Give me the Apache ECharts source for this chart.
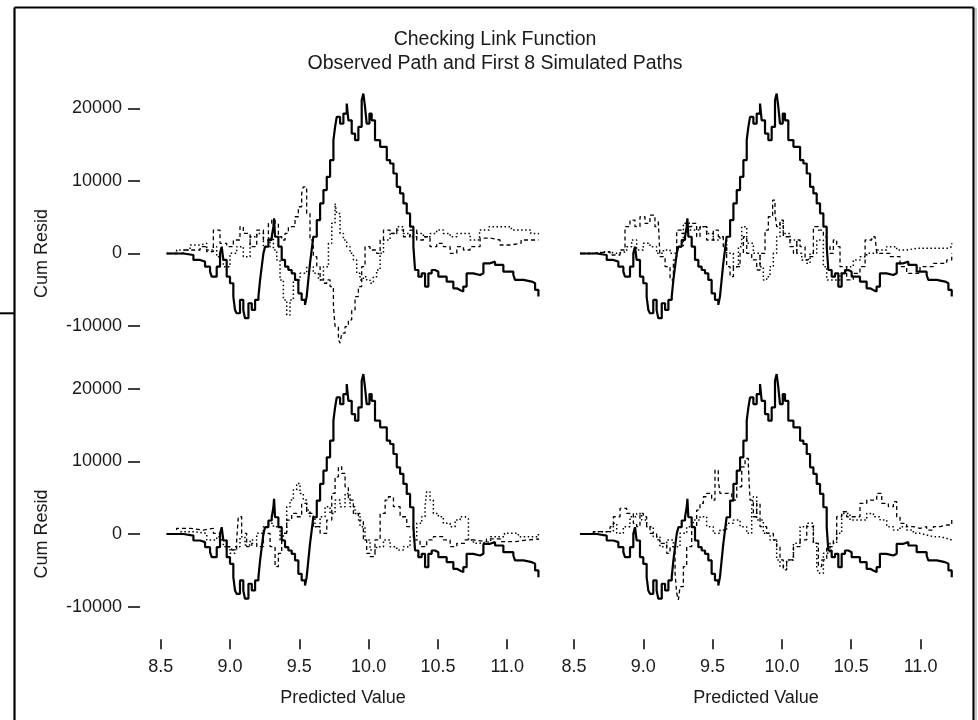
<!DOCTYPE html>
<html>
<head>
<meta charset="utf-8">
<script src="https://cdn.jsdelivr.net/npm/echarts@6/dist/echarts.min.js"></script>
<style>html,body{margin:0;padding:0;background:#fff}#c{width:978px;height:720px}</style>
</head>
<body>
<div id="c"></div>
<script>
// ---------- data ----------
const titleLines = ['Checking Link Function', 'Observed Path and First 8 Simulated Paths'];
const xTicks = [8.5, 9.0, 9.5, 10.0, 10.5, 11.0];
const yTicks = [-10000, 0, 10000, 20000];
const xAxisTitle = 'Predicted Value';
const yAxisTitle = 'Cum Resid';

// observed cumulative residual path (same in every panel)
const observedPath = [
[8.543,0],[8.664,-210],[8.736,-890],[8.784,-1120],[8.820,-1810],[8.856,-2500],[8.868,-3190],[8.904,-1810],
[8.928,20],[8.940,940],[8.952,-890],[8.976,-3190],[9.000,-4100],[9.024,-5940],[9.036,-7770],[9.048,-8230],
[9.072,-6390],[9.096,-7770],[9.108,-8910],[9.133,-6850],[9.157,-7770],[9.181,-6390],[9.205,-5940],[9.217,-3640],
[9.229,-1810],[9.241,20],[9.253,940],[9.277,1860],[9.301,2310],[9.313,3690],[9.318,4840],[9.325,2310],
[9.349,940],[9.373,-890],[9.397,-1810],[9.421,-2270],[9.445,-2730],[9.469,-3640],[9.493,-5480],[9.517,-6390],
[9.541,-7080],[9.553,-5940],[9.565,-3640],[9.577,-1350],[9.589,480],[9.601,2310],[9.626,4610],[9.650,6900],
[9.674,8730],[9.698,10560],[9.722,12860],[9.746,15610],[9.758,17440],[9.770,18810],[9.794,17900],[9.818,19270],
[9.842,20650],[9.854,18350],[9.878,16520],[9.902,15610],[9.926,17440],[9.950,21100],[9.962,22020],[9.974,20190],
[9.986,17900],[10.006,19270],[10.022,18350],[10.046,15610],[10.083,14690],[10.107,14690],[10.131,12860],[10.155,12400],
[10.179,11020],[10.203,9190],[10.227,8270],[10.251,6900],[10.275,5520],[10.299,3690],[10.323,940],[10.335,-2270],
[10.359,-3190],[10.383,-2730],[10.407,-4560],[10.431,-2730],[10.455,-2270],[10.479,-2500],[10.503,-3190],[10.539,-3190],
[10.563,-3870],[10.611,-4790],[10.636,-5020],[10.659,-5250],[10.683,-4560],[10.707,-2730],[10.755,-2960],[10.804,-2730],
[10.828,-1350],[10.876,-1120],[10.912,-1580],[10.972,-2500],[11.044,-2960],[11.056,-3640],[11.117,-3870],[11.177,-4100],
[11.201,-5020],[11.225,-5940]
];

// simulated paths, two per panel (top-left, top-right, bottom-left, bottom-right)
const sim1 = [
[8.543,0],[8.664,480],[8.784,940],[8.832,250],[8.880,3230],[8.928,1400],[8.976,940],[9.024,1860],[9.072,3690],
[9.096,2770],[9.145,940],[9.193,3230],[9.241,1860],[9.277,4150],[9.301,4610],[9.325,4150],[9.349,2310],[9.373,1860],
[9.397,2770],[9.421,3690],[9.445,3690],[9.469,5060],[9.493,6440],[9.517,8270],[9.529,9190],[9.553,5520],[9.577,1860],
[9.601,-440],[9.626,-1810],[9.650,-3640],[9.674,-4100],[9.698,-3640],[9.722,-4560],[9.746,-7310],[9.758,-10060],
[9.782,-11890],[9.794,-12350],[9.806,-10980],[9.830,-10060],[9.854,-9140],[9.878,-7770],[9.902,-5940],[9.926,-4560],
[9.950,-1810],[9.974,940],[10.010,480],[10.058,20],[10.083,1860],[10.107,3230],[10.155,2770],[10.203,3230],[10.251,2310],
[10.299,3230],[10.347,1860],[10.395,2310],[10.443,940],[10.491,1400],[10.539,940],[10.588,20],[10.636,940],[10.684,480],
[10.732,940],[10.804,2130],[10.876,1860],[10.948,1170],[11.020,1400],[11.100,1860],[11.225,1860]
];
const sim2 = [
[8.543,0],[8.615,480],[8.712,1170],[8.784,1400],[8.832,480],[8.880,940],[8.904,-440],[8.952,-1810],[9.000,20],
[9.048,940],[9.096,-440],[9.145,2310],[9.193,2770],[9.241,940],[9.289,2310],[9.313,480],[9.337,-890],[9.361,-3640],
[9.385,-6390],[9.409,-8460],[9.433,-6390],[9.457,-3640],[9.505,-2730],[9.553,-1810],[9.601,-2730],[9.638,-3640],
[9.674,-1810],[9.710,1400],[9.734,4150],[9.758,6900],[9.770,5520],[9.794,2770],[9.818,1860],[9.842,940],[9.866,20],
[9.890,-890],[9.914,-2730],[9.938,-3640],[9.962,-3190],[9.986,-3640],[10.010,-4100],[10.034,-3190],[10.058,-2270],
[10.083,20],[10.107,1860],[10.155,2770],[10.203,3690],[10.251,2770],[10.299,2310],[10.347,2770],[10.395,2310],
[10.443,2770],[10.491,3230],[10.539,2770],[10.588,2310],[10.636,2770],[10.684,2770],[10.732,1860],[10.800,3230],
[10.870,3690],[10.950,3690],[11.030,3230],[11.100,3230],[11.170,2770],[11.225,2310]
];
const sim3 = [
[8.543,0],[8.639,250],[8.760,-210],[8.832,480],[8.868,3690],[8.904,4610],[8.940,3690],[8.976,5060],[9.012,4150],
[9.048,5290],[9.084,3690],[9.108,4610],[9.120,-440],[9.157,-1810],[9.193,-3640],[9.217,-890],[9.241,3230],[9.277,2770],
[9.313,3690],[9.349,4150],[9.385,2310],[9.409,3690],[9.457,1860],[9.505,3230],[9.541,2310],[9.577,940],[9.601,-1810],
[9.626,-3190],[9.650,-1810],[9.698,20],[9.722,2310],[9.746,20],[9.782,-890],[9.818,-2270],[9.842,20],[9.878,3230],
[9.902,5060],[9.933,7350],[9.950,5520],[9.962,3690],[9.986,4610],[10.010,2310],[10.058,940],[10.083,20],[10.107,1860],
[10.131,940],[10.167,-890],[10.191,-440],[10.227,3690],[10.263,3230],[10.299,2310],[10.323,940],[10.347,20],[10.371,1860],
[10.395,940],[10.419,-1810],[10.467,-3640],[10.515,-2730],[10.563,-1810],[10.600,1860],[10.648,2310],[10.672,2310],
[10.684,20],[10.780,-440],[10.852,-1810],[10.900,-2730],[10.996,-1810],[11.093,-1350],[11.189,-890],[11.225,20]
];
const sim4 = [
[8.543,0],[8.639,250],[8.736,20],[8.808,250],[8.880,940],[8.916,1860],[8.952,480],[9.000,1400],[9.048,940],
[9.096,20],[9.145,480],[9.193,20],[9.241,940],[9.289,4150],[9.337,3230],[9.409,3690],[9.457,2770],[9.505,1860],
[9.553,2310],[9.601,20],[9.650,-1810],[9.686,940],[9.710,3690],[9.746,1400],[9.794,20],[9.842,-1810],[9.866,-3640],
[9.890,-3190],[9.914,-1810],[9.938,20],[9.962,2310],[9.986,4150],[10.010,2770],[10.058,1860],[10.107,20],[10.143,-890],
[10.179,-1350],[10.203,20],[10.251,1860],[10.299,-1810],[10.323,-3640],[10.371,-3640],[10.419,-2730],[10.467,-1810],
[10.515,-890],[10.563,-440],[10.612,20],[10.684,480],[10.756,940],[10.828,480],[10.900,710],[10.972,710],[11.044,710],
[11.117,710],[11.189,940],[11.225,1400]
];
const sim5 = [
[8.543,0],[8.615,780],[8.712,550],[8.808,780],[8.880,90],[8.928,-820],[8.976,-1740],[9.012,-2200],[9.048,-820],
[9.060,2380],[9.084,90],[9.120,-1740],[9.157,-1280],[9.193,-1740],[9.241,90],[9.289,-1740],[9.325,-4490],[9.349,-2660],
[9.373,90],[9.409,1920],[9.445,2840],[9.481,2380],[9.517,4220],[9.553,2840],[9.601,1010],[9.650,90],[9.698,1920],
[9.734,5590],[9.758,7880],[9.782,9260],[9.806,8340],[9.830,6510],[9.854,4670],[9.890,2840],[9.926,1920],[9.962,-820],
[9.986,-2660],[10.010,-3120],[10.046,-820],[10.083,2840],[10.119,4670],[10.143,5130],[10.179,3760],[10.227,2380],
[10.275,1010],[10.323,-820],[10.371,-1740],[10.419,-820],[10.467,-370],[10.539,-820],[10.588,-1740],[10.636,-1280],
[10.696,-820],[10.756,-1050],[10.850,-680],[10.950,-1050],[11.050,-820],[11.150,-680],[11.225,-820]
];
const sim6 = [
[8.543,0],[8.640,320],[8.736,90],[8.832,-820],[8.904,-370],[8.952,-1740],[9.000,-2660],[9.036,-1740],[9.072,-370],
[9.108,-1510],[9.145,-820],[9.193,90],[9.241,1010],[9.277,1470],[9.313,1010],[9.361,-820],[9.385,90],[9.409,3760],
[9.433,4670],[9.457,6050],[9.481,6970],[9.505,5590],[9.529,4670],[9.553,3300],[9.577,2380],[9.613,1010],[9.650,2380],
[9.686,3760],[9.722,2840],[9.758,4670],[9.794,3760],[9.830,5590],[9.866,3760],[9.902,2840],[9.938,1010],[9.974,-820],
[10.010,-2200],[10.058,-1740],[10.107,-820],[10.155,-1740],[10.203,-2200],[10.251,-1740],[10.299,-370],[10.347,1470],
[10.383,2380],[10.407,3760],[10.419,5820],[10.443,4670],[10.467,2840],[10.503,2380],[10.539,1470],[10.588,1010],
[10.624,1920],[10.660,2380],[10.696,2150],[10.720,-820],[10.756,-1280],[10.792,-1050],[10.880,-370],[10.980,90],
[11.080,-370],[11.225,90]
];
const sim7 = [
[8.543,0],[8.639,320],[8.760,1010],[8.784,2380],[8.832,3530],[8.880,2840],[8.928,1470],[8.952,1010],[8.976,2840],
[9.000,2380],[9.024,1010],[9.048,90],[9.096,-820],[9.120,-1280],[9.169,-2660],[9.193,-1740],[9.229,-5410],[9.241,-8160],
[9.253,-9070],[9.265,-7240],[9.289,-4490],[9.313,-1740],[9.349,1010],[9.385,3300],[9.409,4220],[9.433,5130],[9.457,5590],
[9.493,4670],[9.517,8800],[9.541,7420],[9.553,5590],[9.601,5590],[9.638,4670],[9.674,6510],[9.710,9260],[9.734,10400],
[9.758,9260],[9.770,4670],[9.794,2380],[9.818,4220],[9.842,1010],[9.890,90],[9.938,-820],[9.962,-1740],[9.986,-3570],
[10.010,-4950],[10.034,-3570],[10.083,-1740],[10.131,-820],[10.179,1010],[10.227,-1280],[10.263,-4490],[10.287,-3570],
[10.323,-1740],[10.371,-820],[10.395,2380],[10.431,3070],[10.467,2380],[10.515,2380],[10.563,4220],[10.612,4670],
[10.660,4670],[10.684,5590],[10.720,4220],[10.768,3760],[10.804,4450],[10.828,2380],[10.852,1470],[10.900,1010],
[10.948,780],[10.996,1010],[11.044,550],[11.093,1010],[11.141,1240],[11.189,1240],[11.225,1920]
];
const sim8 = [
[8.543,0],[8.639,320],[8.760,320],[8.784,1470],[8.808,90],[8.856,1010],[8.904,2380],[8.952,2840],[8.988,1920],
[9.024,1010],[9.072,-370],[9.120,-1740],[9.169,-820],[9.217,-1740],[9.265,90],[9.313,1010],[9.361,1920],[9.409,2380],
[9.457,1010],[9.505,90],[9.553,550],[9.601,1470],[9.650,1920],[9.698,1010],[9.746,90],[9.782,3760],[9.794,5130],
[9.818,1920],[9.866,90],[9.914,-820],[9.962,-3570],[9.986,-4490],[10.034,-3570],[10.083,-1280],[10.131,1010],
[10.179,1470],[10.227,-1280],[10.251,-4490],[10.263,-5410],[10.299,-2660],[10.347,-1280],[10.395,90],[10.431,2840],
[10.491,1920],[10.563,1920],[10.612,2840],[10.660,2380],[10.708,1920],[10.756,1010],[10.804,550],[10.852,1010],
[10.900,550],[10.948,90],[10.996,-140],[11.044,-370],[11.093,-370],[11.141,-600],[11.189,-820],[11.225,-600]
];
const panelSims = [[sim1, sim2], [sim3, sim4], [sim5, sim6], [sim7, sim8]];

// ---------- chart ----------
const FONT = '"Liberation Sans", Arial, sans-serif';
const TXT = '#1a1a1a';
const chart = echarts.init(document.getElementById('c'), null, {renderer: 'canvas'});

const gridLeft = [160.7, 574, 160.7, 574];
const gridTop = [72, 72, 352.5, 352.5];
const gridHeight = [290.4, 290.4, 286.8, 286.8];
const yMin = [-15000, -15000, -14500, -14500];
const xMin = 8.5, xMax = 11.25;

const grids = [], xAxes = [], yAxes = [], series = [];
for (let i = 0; i < 4; i++) {
  grids.push({left: gridLeft[i], top: gridTop[i], width: 381.2, height: gridHeight[i], containLabel: false});
  const bottomRow = i >= 2, leftCol = (i % 2 === 0);
  xAxes.push({
    gridIndex: i, type: 'value', min: xMin, max: xMax, position: 'bottom',
    show: bottomRow,
    axisLine: {show: false, onZero: false}, splitLine: {show: false},
    axisTick: {show: true, length: 10, customValues: xTicks, lineStyle: {color: '#000', width: 1.5}},
    axisLabel: {show: true, customValues: xTicks, formatter: v => v.toFixed(1), fontSize: 18,
      fontFamily: FONT, color: TXT, margin: 19}
  });
  yAxes.push({
    gridIndex: i, type: 'value', min: yMin[i], max: 25000, position: 'left',
    show: leftCol, offset: 20.7,
    axisLine: {show: false, onZero: false}, splitLine: {show: false},
    axisTick: {show: true, length: 12, customValues: yTicks, lineStyle: {color: '#000', width: 1.5}},
    axisLabel: {show: true, customValues: yTicks, formatter: v => String(Math.round(v)), fontSize: 18,
      fontFamily: FONT, color: TXT, margin: 18}
  });
  series.push({
    type: 'line', xAxisIndex: i, yAxisIndex: i, data: observedPath, step: 'end',
    showSymbol: false, symbol: 'none', z: 3,
    lineStyle: {color: '#000', width: 2.2, type: 'solid'}
  });
  series.push({
    type: 'line', xAxisIndex: i, yAxisIndex: i, data: panelSims[i][0], step: 'end',
    showSymbol: false, symbol: 'none', z: 2,
    lineStyle: {color: '#000', width: 1.3, type: [4, 3]}
  });
  series.push({
    type: 'line', xAxisIndex: i, yAxisIndex: i, data: panelSims[i][1], step: 'end',
    showSymbol: false, symbol: 'none', z: 2,
    lineStyle: {color: '#000', width: 1.5, type: [1.5, 2.5]}
  });
}

const textStyle = (t, size) => ({text: t, fill: TXT, font: (size || 18) + 'px ' + FONT,
  textAlign: 'center', textVerticalAlign: 'middle'});

const graphic = [
  {type: 'text', x: 495, y: 40, style: textStyle(titleLines[0], 19.5)},
  {type: 'text', x: 495, y: 64, style: textStyle(titleLines[1], 19.5)},
  {type: 'text', x: 343, y: 698, style: textStyle(xAxisTitle)},
  {type: 'text', x: 756, y: 698, style: textStyle(xAxisTitle)},
  {type: 'text', x: 42, y: 253.5, rotation: Math.PI / 2, style: textStyle(yAxisTitle)},
  {type: 'text', x: 42, y: 534, rotation: Math.PI / 2, style: textStyle(yAxisTitle)},
  // frame
  {type: 'line', shape: {x1: 14.5, y1: 7.5, x2: 973.5, y2: 7.5}, style: {stroke: '#000', lineWidth: 2.2}},
  {type: 'line', shape: {x1: 14.5, y1: 7.5, x2: 14.5, y2: 720}, style: {stroke: '#000', lineWidth: 2.2}},
  {type: 'line', shape: {x1: 973.5, y1: 7.5, x2: 973.5, y2: 720}, style: {stroke: '#000', lineWidth: 2.2}},
  {type: 'line', shape: {x1: 976, y1: 8, x2: 976, y2: 720}, style: {stroke: '#999', lineWidth: 1}},
  {type: 'line', shape: {x1: 0, y1: 313.3, x2: 14.5, y2: 313.3}, style: {stroke: '#000', lineWidth: 2}}
];

chart.setOption({
  animation: false,
  backgroundColor: '#fff',
  grid: grids, xAxis: xAxes, yAxis: yAxes, series: series, graphic: graphic
});
</script>
</body>
</html>
